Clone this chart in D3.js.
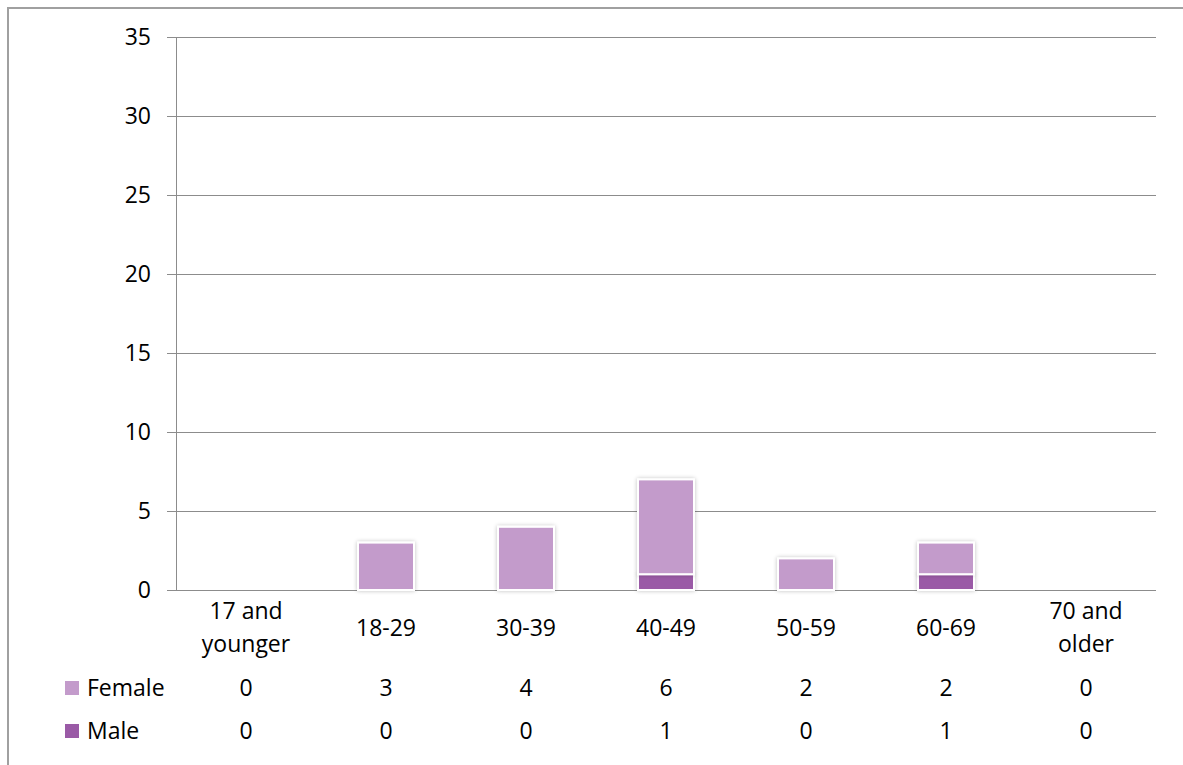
<!DOCTYPE html>
<html>
<head>
<meta charset="utf-8">
<script src="https://cdn.jsdelivr.net/npm/d3@7"></script>
<style>
  html, body { margin: 0; padding: 0; background: #fff; }
  svg { display: block; }
  text { font-family: "Open Sans", "Liberation Sans", sans-serif; fill: #000; }
</style>
</head>
<body>
<svg id="chart" width="1183" height="765"></svg>
<script>
// Age groups (each label is split into lines)
const categories = [["17 and", "younger"], ["18-29"], ["30-39"], ["40-49"], ["50-59"], ["60-69"], ["70 and", "older"]];
const female = [0, 3, 4, 6, 2, 2, 0];
const male = [0, 0, 0, 1, 0, 1, 0];
const seriesNames = ["Female", "Male"];
const yTicks = [0, 5, 10, 15, 20, 25, 30, 35];

const colors = { Female: "#c39bcb", Male: "#9a5aa6" };
const fontSize = 23;

const svg = d3.select("#chart");
const W = 1183, H = 765;
const margin = { left: 176, right: 27, top: 37, bottom: 175 };
const plotBottom = H - margin.bottom;

// Outer frame
svg.append("path")
  .attr("d", `M8,${H} L8,8 L${W},8`)
  .attr("fill", "none")
  .attr("stroke", "#a0a0a0")
  .attr("stroke-width", 2);

const keys = categories.map(c => c.join(" "));
const x = d3.scaleBand().domain(keys).range([margin.left, W - margin.right]).paddingInner(0.6).paddingOuter(0.3);
const xBand = d3.scaleBand().domain(keys).range([margin.left, W - margin.right]);
const y = d3.scaleLinear().domain([0, 35]).range([plotBottom, margin.top]);

const defs = svg.append("defs");
const f = defs.append("filter").attr("id", "shadow").attr("x", "-30%").attr("y", "-30%").attr("width", "160%").attr("height", "160%");
f.append("feGaussianBlur").attr("in", "SourceAlpha").attr("stdDeviation", 2).attr("result", "b");
f.append("feComponentTransfer").attr("in", "b").attr("result", "s")
  .append("feFuncA").attr("type", "linear").attr("slope", 0.25);
const m = f.append("feMerge");
m.append("feMergeNode").attr("in", "s");
m.append("feMergeNode").attr("in", "SourceGraphic");

// Gridlines
svg.append("g")
  .selectAll("line")
  .data(yTicks)
  .join("line")
  .attr("x1", margin.left - 9)
  .attr("x2", W - margin.right)
  .attr("y1", d => Math.round(y(d)) + 0.5)
  .attr("y2", d => Math.round(y(d)) + 0.5)
  .attr("stroke", "#8c8c8c")
  .attr("stroke-width", 1);

// Y axis line
svg.append("line")
  .attr("x1", margin.left + 0.5).attr("x2", margin.left + 0.5)
  .attr("y1", y(35)).attr("y2", plotBottom)
  .attr("stroke", "#8c8c8c");

// Y tick labels
svg.append("g")
  .selectAll("text")
  .data(yTicks)
  .join("text")
  .attr("x", margin.left - 25)
  .attr("y", d => y(d))
  .attr("dy", "0.36em")
  .attr("text-anchor", "end")
  .attr("font-size", fontSize)
  .text(d => d);

// Stacked bars: Male at the bottom, Female on top
const rows = keys.map((k, i) => ({ key: k, Male: male[i], Female: female[i] }));
const stack = d3.stack().keys(["Male", "Female"])(rows);

svg.append("g")
  .selectAll("g")
  .data(stack)
  .join("g")
  .attr("fill", d => colors[d.key])
  .selectAll("rect")
  .data(d => d.filter(p => p[1] - p[0] > 0))
  .join("rect")
  .attr("x", d => x(d.data.key))
  .attr("width", x.bandwidth())
  .attr("y", d => y(d[1]))
  .attr("height", d => y(d[0]) - y(d[1]))
  .attr("stroke", "#fff")
  .attr("stroke-width", 2)
  .attr("filter", "url(#shadow)");

// Category labels
const catG = svg.append("g");
categories.forEach((lines, i) => {
  const cx = xBand(keys[i]) + xBand.bandwidth() / 2;
  const t = catG.append("text")
    .attr("x", cx)
    .attr("text-anchor", "middle")
    .attr("font-size", fontSize);
  const startY = lines.length === 1 ? 628 : 611;
  lines.forEach((ln, j) => {
    t.append("tspan").attr("x", cx).attr("y", startY + j * 33).attr("dy", "0.36em").text(ln);
  });
});

// Data table rows with legend keys
const tableRows = [
  { name: seriesNames[0], values: female, cy: 688 },
  { name: seriesNames[1], values: male, cy: 731 }
];
tableRows.forEach(r => {
  svg.append("rect")
    .attr("x", 65).attr("y", r.cy - 7)
    .attr("width", 14).attr("height", 14)
    .attr("fill", colors[r.name]);
  svg.append("text")
    .attr("x", 87).attr("y", r.cy).attr("dy", "0.36em")
    .attr("font-size", fontSize)
    .text(r.name);
  svg.append("g").selectAll("text")
    .data(r.values)
    .join("text")
    .attr("x", (d, i) => xBand(keys[i]) + xBand.bandwidth() / 2)
    .attr("y", r.cy).attr("dy", "0.36em")
    .attr("text-anchor", "middle")
    .attr("font-size", fontSize)
    .text(d => d);
});
</script>
</body>
</html>
